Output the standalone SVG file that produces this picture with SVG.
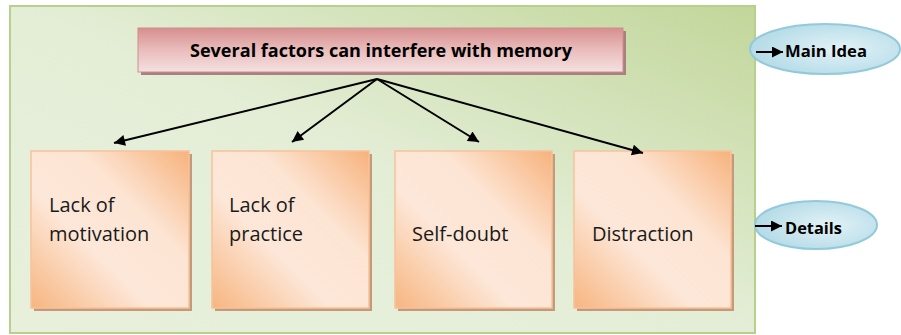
<svg xmlns="http://www.w3.org/2000/svg" width="901" height="335" viewBox="0 0 901 335">
  <defs>
    <linearGradient id="bgGrad" x1="0" y1="1" x2="1" y2="0">
      <stop offset="0" stop-color="#e8f0dc"/>
      <stop offset="0.5" stop-color="#e4eed7"/>
      <stop offset="1" stop-color="#c2d69a"/>
    </linearGradient>
    <linearGradient id="titleGrad" x1="0" y1="0" x2="0" y2="1">
      <stop offset="0" stop-color="#d68f8e"/>
      <stop offset="0.5" stop-color="#e9bdbc"/>
      <stop offset="1" stop-color="#f4e0e0"/>
    </linearGradient>
    <linearGradient id="boxGrad" x1="1" y1="0" x2="0" y2="1">
      <stop offset="0" stop-color="#f7b27c"/>
      <stop offset="0.35" stop-color="#fde5d4"/>
      <stop offset="0.62" stop-color="#fde7d8"/>
      <stop offset="1" stop-color="#f7b580"/>
    </linearGradient>
    <radialGradient id="ovalGrad" cx="0.6" cy="0.5" r="0.6">
      <stop offset="0" stop-color="#e3f2f6"/>
      <stop offset="1" stop-color="#b3dbe7"/>
    </radialGradient>
    <marker id="head" viewBox="0 0 10 10" refX="10" refY="5" markerWidth="7" markerHeight="5.5" markerUnits="strokeWidth" orient="auto">
      <path d="M0,0 L10,5 L0,10 z" fill="#000"/>
    </marker>
    <style>
      .box { fill: url(#boxGrad); stroke: #f8c29a; stroke-width: 1.5; }
      .shadow { fill: #c59a7a; }
      .label { font-family: "Open Sans", "Noto Sans", sans-serif; font-size: 20px; fill: #1a1a1a; }
      .bold { font-family: "Open Sans", "Noto Sans", sans-serif; font-weight: bold; fill: #000; }
      .oval { fill: url(#ovalGrad); stroke: #92cadb; stroke-width: 2; }
      .conn { stroke: #000; stroke-width: 2; fill: none; marker-end: url(#head); }
    </style>
  </defs>

  <!-- background panel -->
  <g id="panel">
    <rect x="10" y="6" width="745" height="327" fill="url(#bgGrad)" stroke="#b7d08c" stroke-width="2"/>
  </g>

  <!-- main idea box -->
  <g id="title">
    <rect x="141" y="31" width="485" height="44" fill="#a88080"/>
    <rect x="138" y="28" width="485" height="44" fill="url(#titleGrad)" stroke="#d18c8b" stroke-width="1"/>
    <text class="bold" x="381" y="57" font-size="17" text-anchor="middle" textLength="382" lengthAdjust="spacingAndGlyphs">Several factors can interfere with memory</text>
  </g>

  <!-- detail boxes -->
  <g id="motivation">
    <rect class="shadow" x="34" y="154" width="158" height="157"/>
    <rect class="box" x="31" y="151" width="158" height="157"/>
    <text class="label" x="49" y="212">Lack of</text>
    <text class="label" x="49" y="241">motivation</text>
  </g>
  <g id="practice">
    <rect class="shadow" x="215" y="154" width="157" height="157"/>
    <rect class="box" x="212" y="151" width="157" height="157"/>
    <text class="label" x="229" y="212">Lack of</text>
    <text class="label" x="229" y="241">practice</text>
  </g>
  <g id="selfdoubt">
    <rect class="shadow" x="398" y="154" width="157" height="157"/>
    <rect class="box" x="395" y="151" width="157" height="157"/>
    <text class="label" x="412" y="241">Self-doubt</text>
  </g>
  <g id="distraction">
    <rect class="shadow" x="577" y="154" width="157" height="157"/>
    <rect class="box" x="574" y="151" width="157" height="157"/>
    <text class="label" x="592" y="241">Distraction</text>
  </g>

  <!-- legend ovals -->
  <g id="legend-main">
    <ellipse class="oval" cx="825" cy="49" rx="75" ry="25"/>
    <text class="bold" x="785" y="57" font-size="16" textLength="82" lengthAdjust="spacingAndGlyphs">Main Idea</text>
  </g>
  <g id="legend-details">
    <ellipse class="oval" cx="816" cy="225" rx="61" ry="24"/>
    <text class="bold" x="785" y="234" font-size="16" textLength="57" lengthAdjust="spacingAndGlyphs">Details</text>
  </g>

  <!-- connectors -->
  <g id="connectors">
    <line class="conn" x1="377" y1="79" x2="114" y2="143"/>
    <line class="conn" x1="377" y1="79" x2="292" y2="142"/>
    <line class="conn" x1="377" y1="79" x2="479" y2="142"/>
    <line class="conn" x1="377" y1="79" x2="643" y2="153"/>
    <line class="conn" x1="756" y1="52" x2="783" y2="52"/>
    <line class="conn" x1="755" y1="226" x2="782" y2="226"/>
  </g>
</svg>
